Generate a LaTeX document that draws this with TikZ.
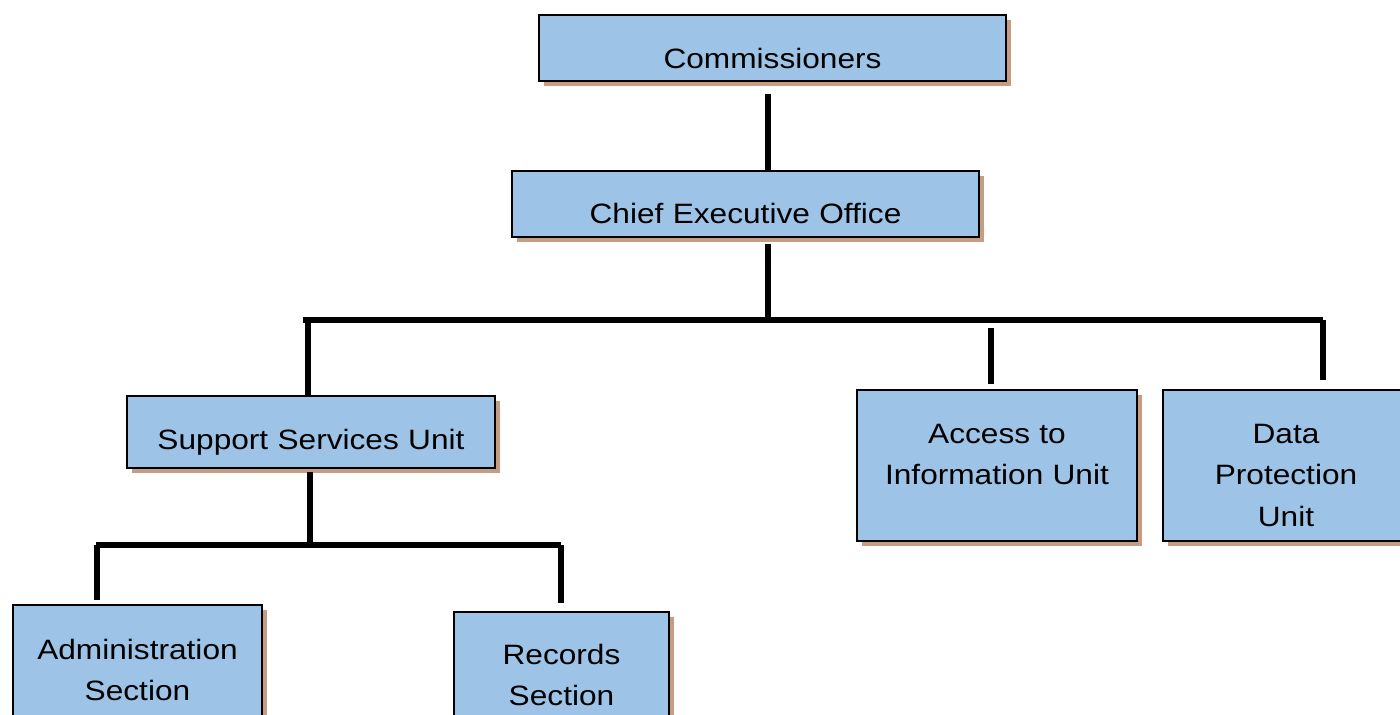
\documentclass[tikz,border=0pt]{standalone}
\usepackage{fontspec}
\setmainfont{Liberation Sans}[FakeStretch=1.13]
\usetikzlibrary{shadows}

\begin{document}
\begin{tikzpicture}[x=0.5pt,y=-0.5pt,
    unit/.style={draw=black,line width=1pt,fill=unitblue,inner sep=0pt,anchor=north west,
      align=center,font=\fontsize{14}{20.5}\selectfont,
      drop shadow={shadow xshift=2.5pt,shadow yshift=-2.5pt,fill=shadowbrown,opacity=1}},
    link/.style={line width=3pt}]
    \definecolor{unitblue}{RGB}{157,195,230}
    \definecolor{shadowbrown}{RGB}{198,156,130}
    \clip (0,0) rectangle (1400,715);

    \node[unit,text width=233.5pt,text height=27pt,text depth=6pt] (comm) at (538,14) {Commissioners};
    \node[unit,text width=233.5pt,text height=26.5pt,text depth=6.5pt] (ceo) at (511,170) {Chief Executive Office};
    \node[unit,text width=184pt,text height=26.5pt,text depth=9.5pt] (ssu) at (126,395) {Support Services Unit};
    \node[unit,text width=140pt,text height=27pt,text depth=48.5pt] (ati) at (856,389) {Access to\\Information Unit};
    \node[unit,text width=123pt,text height=27pt,text depth=48.5pt] (dpu) at (1162,389) {Data\\Protection\\Unit};
    \node[unit,text width=124.5pt,text height=27pt,text depth=41pt] (adm) at (12,604) {Administration\\Section};
    \node[unit,text width=107.5pt,text height=26pt,text depth=38.5pt] (rec) at (453,611) {Records\\Section};

    \coordinate (barL) at (303,320);
    \coordinate (barR) at (1323,320);
    \coordinate (subL) at (96,545);
    \coordinate (subR) at (561,545);
    \coordinate (top) at (768,320);

    \draw[link] ([yshift=-6pt]comm.south -| top) -- (ceo.north -| top);
    \draw[link] ([yshift=-3pt]ceo.south -| top) -- (top);
    \draw[link] (barL) -- (barR);
    \draw[link] ([xshift=-1.5pt]ssu.north |- barL) -- ([xshift=-1.5pt]ssu.north);
    \draw[link] ([xshift=-3pt,yshift=-4pt]ati.north |- barL) -- ([xshift=-3pt,yshift=2.5pt]ati.north);
    \draw[link] (barR) -- ([yshift=4.5pt]barR |- dpu.north);
    \draw[link] ([xshift=-0.5pt,yshift=-1.5pt]ssu.south) -- ([xshift=-0.5pt]ssu.south |- subL);
    \draw[link] (subL) -- (subR);
    \draw[link] ([xshift=0.5pt]subL) -- ([xshift=0.5pt,yshift=2pt]subL |- adm.north);
    \draw[link] (subR) -- ([yshift=4pt]subR |- rec.north);
\end{tikzpicture}
\end{document}
